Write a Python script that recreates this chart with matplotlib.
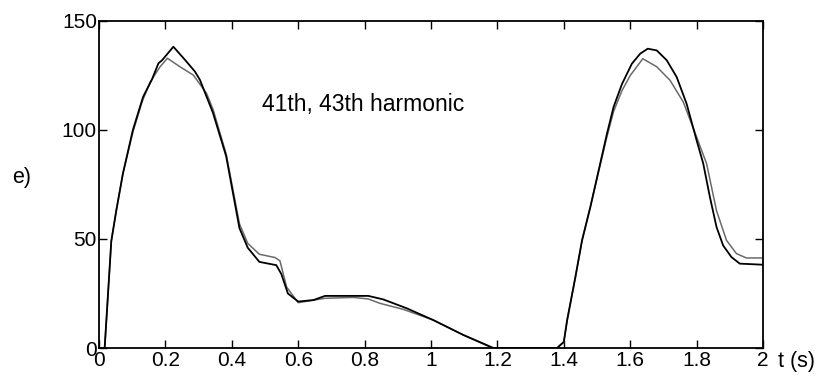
import matplotlib
matplotlib.use("Agg")
import matplotlib.pyplot as plt

plt.rcParams['font.family'] = ['Liberation Sans', 'DejaVu Sans']

# 41th harmonic (black)
t_41 = [0, 0.017, 0.024, 0.037, 0.052, 0.072, 0.102, 0.133, 0.159, 0.179, 0.19, 0.224,
        0.26, 0.289, 0.304, 0.343, 0.383, 0.423, 0.448, 0.483, 0.534, 0.549, 0.569,
        0.6, 0.646, 0.681, 0.811, 0.856, 0.927, 1.007, 1.097, 1.167, 1.187, 1.38,
        1.4, 1.41, 1.435, 1.455, 1.48, 1.505, 1.53, 1.55, 1.575, 1.605, 1.63, 1.653,
        1.68, 1.71, 1.74, 1.77, 1.80, 1.82, 1.84, 1.86, 1.88, 1.905, 1.93, 2.0]
v_41 = [0, 0, 17, 49, 63, 80, 100, 115.3, 123, 130.6, 132, 138.2,
        132, 126.8, 123, 108, 88, 55, 46, 39.5, 38, 34, 25,
        21.3, 22, 23.9, 23.9, 22.3, 18.2, 12.8, 6, 1.4, 0, 0,
        2.8, 12.7, 32.6, 49.4, 64.7, 81.5, 98.3, 110.6, 121, 130.4, 135, 137.3,
        136.5, 132, 124.3, 112, 95.3, 84.6, 69.3, 55.5, 47, 41.7, 38.7, 38.2]

# 43th harmonic (grey)
t_43 = [0, 0.017, 0.024, 0.037, 0.052, 0.072, 0.102, 0.13, 0.154, 0.184, 0.206,
        0.244, 0.284, 0.324, 0.344, 0.383, 0.423, 0.448, 0.483, 0.53, 0.545, 0.565,
        0.6, 0.681, 0.766, 0.811, 0.846, 0.917, 1.007, 1.097, 1.167, 1.19, 1.38,
        1.39, 1.4, 1.41, 1.435, 1.455, 1.48, 1.505, 1.53, 1.55, 1.575, 1.6, 1.638,
        1.68, 1.72, 1.76, 1.80, 1.83, 1.86, 1.89, 1.92, 1.95, 2.0]
v_43 = [0, 0, 17, 49, 63, 80, 99, 113, 122, 129, 132.9,
        129, 125.2, 116.8, 109.2, 89, 57, 48, 43, 41.5, 40, 28,
        20.8, 22.8, 23.2, 22.5, 20.5, 17.7, 12.8, 6, 1.2, 0, 0,
        1.5, 2.5, 12.7, 32.6, 49.4, 64.7, 81, 97, 108.5, 118, 125, 132.7,
        129, 122.8, 112.8, 96.8, 84.6, 63, 49.4, 43.3, 41.3, 41.3]

fig = plt.figure(figsize=(8.29, 3.78), dpi=100)
ax = fig.add_axes([99 / 829, 30 / 378, 664 / 829, 327 / 378])

ax.plot(t_43, v_43, color='#6a6a6a', lw=1.1)
ax.plot(t_41, v_41, color='black', lw=1.3)

ax.set_xlim(0, 2)
ax.set_ylim(0, 150)
ax.set_xticks([0, 0.2, 0.4, 0.6, 0.8, 1, 1.2, 1.4, 1.6, 1.8, 2])
ax.set_xticklabels(['0', '0.2', '0.4', '0.6', '0.8', '1', '1.2', '1.4', '1.6', '1.8', '2'])
ax.set_yticks([0, 50, 100, 150])
ax.tick_params(direction='in', length=5.5, width=1, top=True, right=True,
               labelsize=15, colors='black')
ax.tick_params(axis='x', pad=2)
ax.tick_params(axis='y', pad=1.5)
for s in ax.spines.values():
    s.set_linewidth(1.3)

ax.text(0.49, 111.5, '41th, 43th harmonic', fontsize=16.5, va='center', ha='left')
fig.text(22 / 829, 1 - 178 / 378, 'e)', fontsize=15.5, ha='center', va='center')
fig.text(797 / 829, 1 - 362 / 378, 't (s)', fontsize=15.5, ha='center', va='center')

fig.savefig('out.png', dpi=100)
